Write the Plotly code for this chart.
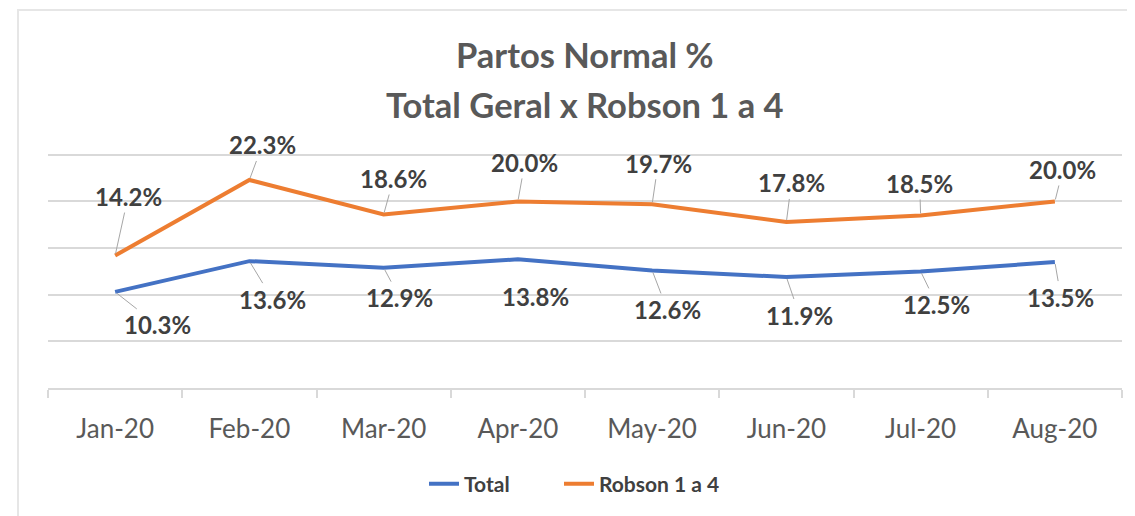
import plotly.graph_objects as go

months = ["Jan-20", "Feb-20", "Mar-20", "Apr-20", "May-20", "Jun-20", "Jul-20", "Aug-20"]
total = [10.3, 13.6, 12.9, 13.8, 12.6, 11.9, 12.5, 13.5]
robson = [14.2, 22.3, 18.6, 20.0, 19.7, 17.8, 18.5, 20.0]
series_names = ["Total", "Robson 1 a 4"]

# label offsets in pixels (text centre relative to point)
robson_off = [(13, -59), (13, -35), (10, -36), (7, -39), (6, -41), (5, -39), (-1, -32), (8, -32)]
total_off = [(42, 33), (23, 38), (16, 30), (18, 37), (15, 39), (13, 38), (16, 33), (6, 35)]

BLUE = "#4472C4"
ORANGE = "#ED7D31"
FONT = "Lato"

# figure geometry (page body has an 8px margin)
W, H = 1127, 508
L, R, T, B = 40, 13, 144, 128
PW, PH = W - L - R, H - T - B


def px_x(p):
    return (p - 8 - L) / PW


def px_y(p):
    return (H - B - (p - 8)) / PH


fig = go.Figure()
fig.add_trace(go.Scatter(x=months, y=total, mode="lines", name=series_names[0],
                         line=dict(color=BLUE, width=4), legend="legend"))
fig.add_trace(go.Scatter(x=months, y=robson, mode="lines", name=series_names[1],
                         line=dict(color=ORANGE, width=4), legend="legend2"))

annotations = []
for series, offs in ((robson, robson_off), (total, total_off)):
    for m, v, (dx, dy) in zip(months, series, offs):
        annotations.append(dict(
            x=m, y=v, xref="x", yref="y", text=f"<b>{v:.1f}%</b>",
            showarrow=True, arrowhead=0, arrowwidth=1, arrowcolor="#a6a6a6",
            ax=dx, ay=dy, standoff=2,
            font=dict(family=FONT, size=24, color="#404040")))

annotations.append(dict(text="<b>Partos Normal %</b>", x=px_x(585), y=px_y(54),
                        xref="paper", yref="paper", xanchor="center", yanchor="middle",
                        showarrow=False, font=dict(family=FONT, size=34.5, color="#595959")))
annotations.append(dict(text="<b>Total Geral x Robson 1 a 4</b>", x=px_x(585), y=px_y(104),
                        xref="paper", yref="paper", xanchor="center", yanchor="middle",
                        showarrow=False, font=dict(family=FONT, size=34.5, color="#595959")))

legend_style = dict(orientation="h", xanchor="left", y=px_y(484), yanchor="middle",
                    font=dict(family=FONT, size=21, color="#404040", weight="bold"))

fig.update_layout(
    width=W, height=H,
    margin=dict(l=L, r=R, t=T, b=B),
    paper_bgcolor="white", plot_bgcolor="white",
    showlegend=True,
    legend=dict(x=px_x(424), **legend_style),
    legend2=dict(x=px_x(559), **legend_style),
    annotations=annotations,
    xaxis=dict(type="category", range=[-0.5, 7.5], showline=True, linecolor="#d9d9d9", linewidth=1.5,
               ticks="outside", tickson="boundaries", ticklen=8, tickcolor="#d9d9d9", tickwidth=1.5,
               showgrid=False, tickfont=dict(family=FONT, size=26, color="#595959"),
               ticklabelstandoff=17, automargin=False),
    yaxis=dict(range=[0, 25.3], tickvals=[5, 10, 15, 20, 25], showticklabels=False, showgrid=True,
               gridcolor="#d9d9d9", gridwidth=1.5, zeroline=False, showline=False, automargin=False),
    shapes=[dict(type="rect", xref="paper", yref="paper",
                 x0=px_x(18), x1=1.5, y0=-2, y1=px_y(10),
                 line=dict(color="#e6e6e6", width=2), fillcolor="rgba(0,0,0,0)", layer="below")],
)

fig.write_html("out.html")
